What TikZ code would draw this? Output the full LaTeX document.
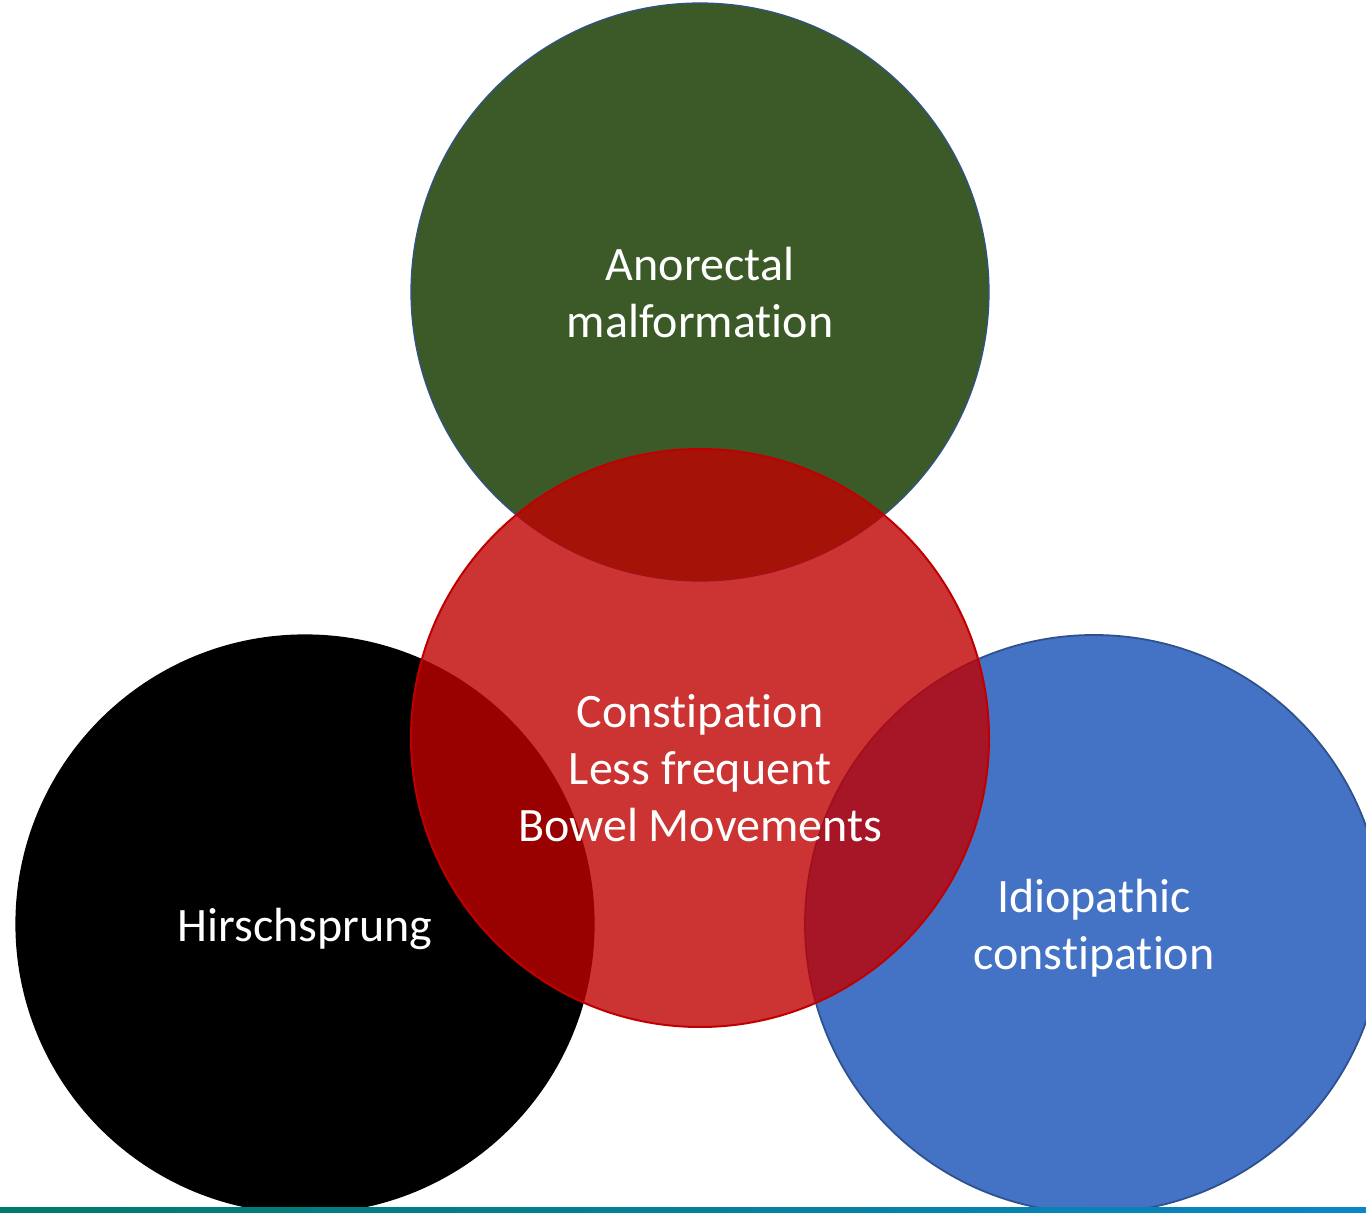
\documentclass[tikz,border=0pt]{standalone}
\usepackage{fontspec}
\setmainfont[Ligatures=NoCommon]{Carlito}
\usetikzlibrary{calc}
\definecolor{mygreen}{RGB}{60, 90, 39}
\definecolor{myblue}{RGB}{68, 114, 196}
\definecolor{myedge}{RGB}{47, 82, 143}
\definecolor{myred}{RGB}{192, 0, 0}
\definecolor{myteal}{RGB}{0, 122, 106}
\definecolor{mysky}{RGB}{10, 134, 200}

\begin{document}
\begin{tikzpicture}[x=0.5pt, y=-0.5pt]

\tikzstyle{ring} = [circle, inner sep=0, outer sep=0, minimum size=289pt]
\tikzstyle{green-c} = [ring, fill=mygreen, draw=myedge, line width=0.6pt]
\tikzstyle{black-c} = [ring, fill=black, draw=black, line width=0.6pt]
\tikzstyle{blue-c} = [ring, fill=myblue, draw=myedge, line width=0.9pt]
\tikzstyle{red-c} = [ring, fill=myred, fill opacity=0.8, draw=myred, line width=1pt]
\tikzstyle{label-t} = [text=white, align=center, inner sep=0,
font=\fontsize{24}{28.5}\selectfont]

\clip (0,0) rectangle (1366,1213);
\fill[white] (0,0) rectangle (1366,1213);

% the three outer circles
\node [green-c] (anorectal) at (700,292) {};
\node [black-c] (hirsch) at (305,924) {};
\node [blue-c] (idio) at (1094,924) {};

% the middle circle, lying over the others
\node [red-c] (consti) at (700,738) {};

\node [label-t] (anorectal-t) at ($(anorectal)+(0,1)$) {Anorectal\\malformation};
\node [label-t] (hirsch-t) at ($(hirsch)+(0,5)$) {Hirschsprung};
\node [label-t] (idio-t) at ($(idio)+(0,4)$) {Idiopathic\\constipation};
\node [label-t] (consti-t) at ($(consti)+(0,30)$) {Constipation\\Less frequent\\Bowel Movements};

% bar at the bottom
\shade[left color=myteal, right color=mysky] (0,1207) rectangle (1366,1213);

\end{tikzpicture}
\end{document}
